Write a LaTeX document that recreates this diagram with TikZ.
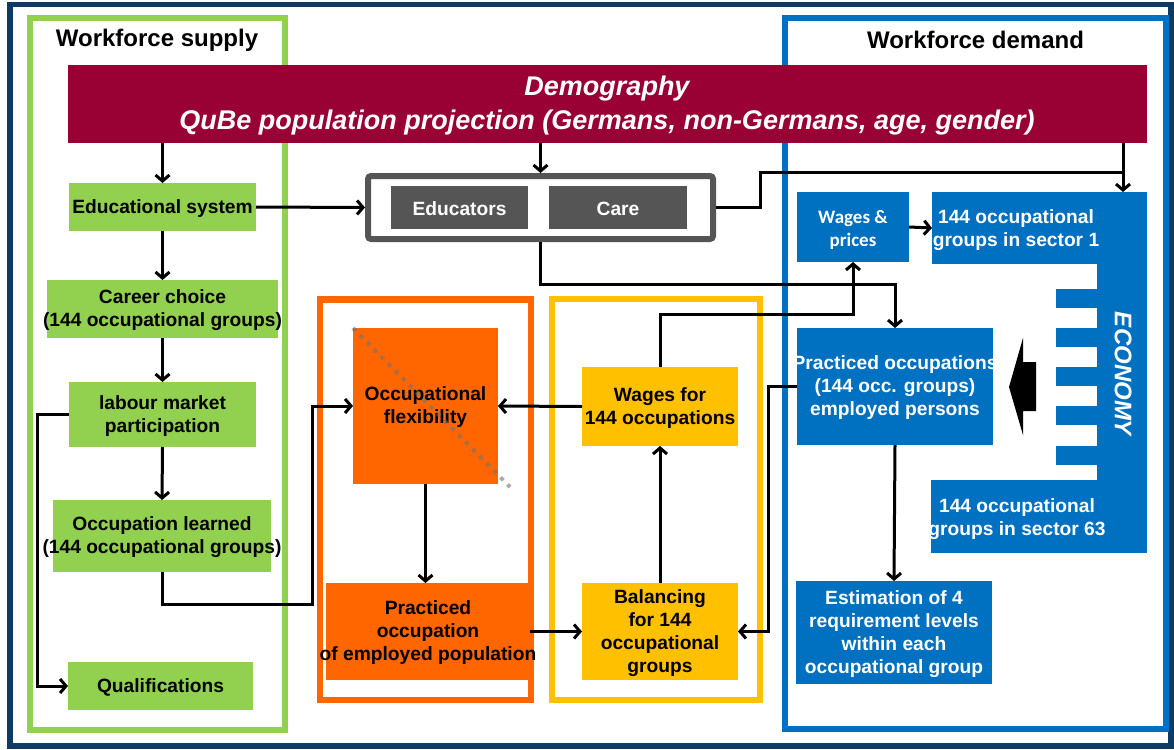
\documentclass[tikz,border=0pt]{standalone}
\usepackage{fontspec}
\setmainfont{Liberation Sans}
\newfontfamily\calib{Carlito}
\usetikzlibrary{arrows.meta}
\definecolor{cnavy}{HTML}{0D3B66}
\definecolor{cgreen}{HTML}{92D050}
\definecolor{corange}{HTML}{FF6600}
\definecolor{cyellow}{HTML}{FFC000}
\definecolor{cblue}{HTML}{0070C0}
\definecolor{cburg}{HTML}{990033}
\definecolor{cgray}{HTML}{555555}
\begin{document}
\begin{tikzpicture}[x=1pt,y=-1pt,
  box/.style={rectangle, draw=none, inner sep=0pt, outer sep=0pt},
  gbox/.style={box, fill=cgreen},
  obox/.style={box, fill=corange},
  ybox/.style={box, fill=cyellow},
  bbox/.style={box, fill=cblue},
  dbox/.style={box, fill=cgray},
  txt/.style={align=center, inner sep=0pt, yshift=-1.5pt, font=\bfseries\fontsize{19.2}{23}\selectfont},
  wtxt/.style={txt, text=white},
  title/.style={inner sep=0pt, font=\bfseries\fontsize{24}{28}\selectfont},
  frame/.style={line width=6pt},
  ln/.style={line width=3pt, line join=miter},
  arr/.style={ln, -{Straight Barb[length=6pt,width=14pt]}}
]
\useasboundingbox (0,0) rectangle (1174,749);
\fill[white] (0,0) rectangle (1174,749);
% frames
\draw[cnavy, line width=5.5pt] (10,4.5) rectangle (1171,746);
\draw[cgreen, frame] (30,18.5) rectangle (285,729.5);
\draw[cblue, frame] (784.5,18.5) rectangle (1165.5,729);
\draw[corange, line width=6.5pt] (320,299.5) rectangle (531,700);
\draw[cyellow, frame] (552,299) rectangle (759.5,700);
\node[title] (ts) at (157,40) {Workforce supply};
\node[title] (td) at (975.5,40) {Workforce demand};

% demography
\node[box, fill=cburg, minimum width=1079pt, minimum height=78pt] (demo) at (607.5,104) {};
\node[align=center, inner sep=0pt, text=white, font=\bfseries\itshape\fontsize{27}{34}\selectfont] (demo-t) at (607,106)
  {Demography\\QuBe population projection (Germans, non-Germans, age, gender)};

% green boxes
\node[gbox, minimum width=187pt, minimum height=48pt] (edu) at (162.5,207) {};
\node[txt] (edu-t) at (edu) {Educational system};
\node[gbox, minimum width=231pt, minimum height=58pt] (career) at (162.5,309) {};
\node[txt] (career-t) at (career) {Career choice\\(144 occupational groups)};
\node[gbox, minimum width=187pt, minimum height=65pt] (labour) at (162.5,414.5) {};
\node[txt] (labour-t) at (labour) {labour market\\participation};
\node[gbox, minimum width=218pt, minimum height=72pt] (learned) at (162,536) {};
\node[txt] (learned-t) at (learned) {Occupation learned\\(144 occupational groups)};
\node[gbox, minimum width=185pt, minimum height=48pt] (qual) at (160.5,686) {};
\node[txt] (qual-t) at (qual) {Qualifications};

% educators / care
\node[box, draw=cgray, line width=6pt, rounded corners=3pt, fill=white, minimum width=345pt, minimum height=63pt, outer sep=3pt] (cont) at (540.5,207.5) {};
\node[dbox, minimum width=137pt, minimum height=43pt] (educ) at (459.5,207.5) {};
\node[wtxt] (educ-t) at (educ) {Educators};
\node[dbox, minimum width=138pt, minimum height=43pt] (care) at (618,207.5) {};
\node[wtxt] (care-t) at (care) {Care};

% orange / yellow
\node[obox, minimum width=145pt, minimum height=156pt] (flex) at (425.5,406) {};
\node[txt] (flex-t) at (flex) {Occupational\\flexibility};
\draw[black!55, opacity=0.6, line width=4pt, dash pattern=on 4pt off 6pt] (353,328) -- (510,487);
\node[obox, minimum width=204pt, minimum height=97pt] (pract) at (428,631.5) {};
\node[txt] (pract-t) at (pract) {Practiced\\occupation\\of employed population};
\node[ybox, minimum width=156pt, minimum height=79pt] (wages) at (660,406.5) {};
\node[txt] (wages-t) at (wages) {Wages for\\144 occupations};
\node[ybox, minimum width=156pt, minimum height=97pt] (bal) at (660,631.5) {};
\node[txt] (bal-t) at (bal) {Balancing\\for 144\\occupational\\groups};

% blue boxes
\node[bbox, minimum width=112pt, minimum height=70pt] (wp) at (853,227) {};
\node[align=center, inner sep=0pt, text=white, font=\calib\bfseries\fontsize{19}{23}\selectfont] (wp-t) at (853,229.5) {Wages \&\\prices};
\node[bbox, minimum width=215pt, minimum height=72pt] (s1) at (1039.5,228) {};
\fill[cblue] (1097,264) rectangle (1147,480);
\foreach \ty in {289,328,367,406,446} \fill[cblue] (1056,\ty) rectangle (1097.5,\ty+19);
\node[bbox, minimum width=216pt, minimum height=73pt] (s63) at (1039,516.5) {};
\node[wtxt] (s1-t) at (1016,228.5) {144 occupational\\groups in sector 1};
\node[wtxt] (s63-t) at (1017,517.5) {144 occupational\\groups in sector 63};
\node[rotate=-90, inner sep=0pt, text=white, font=\bfseries\itshape\fontsize{24}{24}\selectfont] (eco) at (1123,374) {ECONOMY};
\fill[black] (1036,362) -- (1023,362) -- (1023,338) -- (1009,387) -- (1023,435) -- (1023,411) -- (1036,411) -- cycle;
\node[bbox, minimum width=196pt, minimum height=117pt] (po) at (895,386.5) {};
\node[wtxt] (po-t) at (po) {Practiced occupations\\(144 occ. groups)\\employed persons};
\node[bbox, minimum width=196pt, minimum height=103pt] (est) at (894,632.5) {};
\node[wtxt] (est-t) at (est) {Estimation of 4\\requirement levels\\within each\\occupational group};

% connectors
\coordinate (ecx) at (1123,0);
\coordinate (k1) at (760,172);
\coordinate (k2) at (895,284);
\coordinate (k3) at (853,314);
\coordinate (j1) at (312,604);
\coordinate (k4) at (768,631.5);
\coordinate (q1) at (37,414.5);
\draw[arr] (edu |- demo.south) -- (edu.north);
\draw[arr] (edu.south) -- (career.north);
\draw[arr] (career.south) -- (labour.north);
\draw[arr] (labour.south) -- (learned.north);
\draw[arr] (labour.west) -- (q1) |- (qual.west);
\draw[arr] (learned.south) |- (j1) |- (flex.west);
\draw[arr] (cont.north |- demo.south) -- (cont.north);
\draw[arr] (edu.east) -- (cont.west);
\draw[ln] (cont.east) -| (k1) -- (k1 -| ecx);
\draw[arr] (demo.south -| ecx) -- (s1.north -| ecx);
\draw[arr] (cont.south) |- (k2) -- (po.north);
\draw[arr] (flex.south) -- (flex.south |- pract.north);
\draw[arr] (pract.east) -- (bal.west);
\draw[arr] (bal.north) -- (wages.south);
\draw[arr] (wages.west) -- (flex.east);
\draw[arr] (wages.north) |- (k3) -- (wp.south);
\draw[arr] (po.west) -| (k4) -- (bal.east);
\draw[arr] (wp.east) -- (s1.west);
\draw[arr] (po.south) -- (est.north);
\end{tikzpicture}
\end{document}
